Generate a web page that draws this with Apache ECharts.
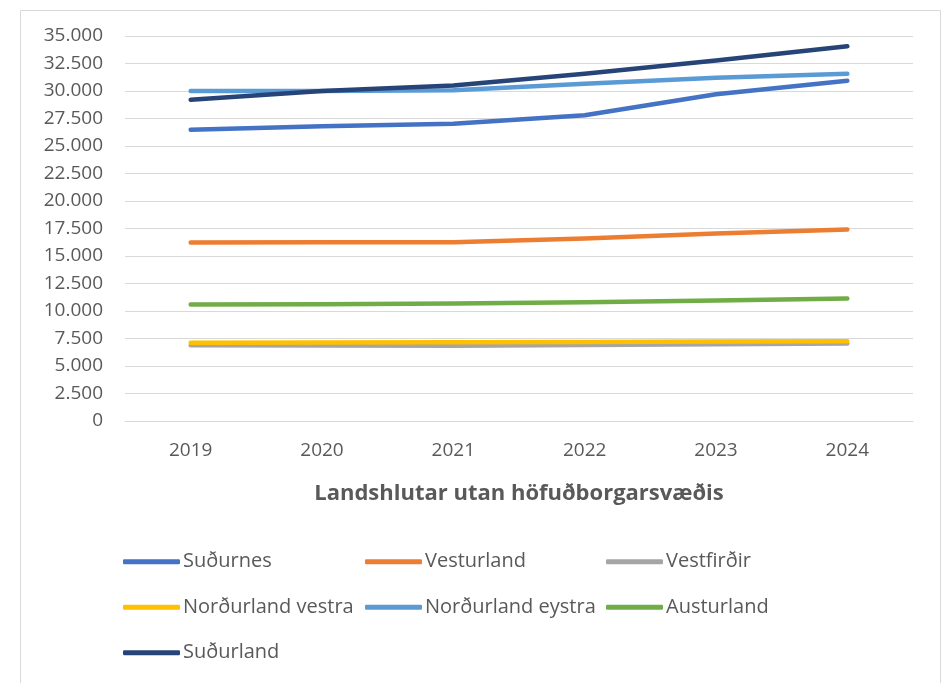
<!DOCTYPE html>
<html>
<head>
<meta charset="utf-8">
<script src="https://cdn.jsdelivr.net/npm/echarts@6/dist/echarts.min.js"></script>
<style>
  html, body { margin: 0; padding: 0; background: #fff; }
  #chart { width: 944px; height: 683px; }
</style>
</head>
<body>
<div id="chart"></div>
<script>
// ár (x-ás)
const years = ['2019', '2020', '2021', '2022', '2023', '2024'];

// gildi lesin af myndinni
const sudurnes = [26480, 26800, 27030, 27800, 29700, 30940];
const vesturland = [16230, 16250, 16240, 16600, 17050, 17410];
const vestfirdir = [6880, 6860, 6840, 6900, 6980, 7050];
const nordurlandVestra = [7110, 7140, 7160, 7190, 7220, 7260];
const nordurlandEystra = [30000, 30000, 30060, 30650, 31200, 31570];
const austurland = [10590, 10620, 10680, 10800, 10950, 11130];
const sudurland = [29200, 30000, 30500, 31570, 32780, 34060];

const seriesNames = ['Suðurnes', 'Vesturland', 'Vestfirðir', 'Norðurland vestra',
  'Norðurland eystra', 'Austurland', 'Suðurland'];
const seriesData = [sudurnes, vesturland, vestfirdir, nordurlandVestra,
  nordurlandEystra, austurland, sudurland];
const colors = ['#4472C4', '#ED7D31', '#A5A5A5', '#FFC000', '#5B9BD5', '#70AD47', '#264478'];

const FONT = 'Open Sans';
const TEXT = '#595959';

function fmt(v) {
  return String(v).replace(/\B(?=(\d{3})+(?!\d))/g, '.');
}

const chart = echarts.init(document.getElementById('chart'));

const legendBase = {
  orient: 'vertical',
  top: 550,
  padding: 0,
  itemWidth: 57,
  itemHeight: 5,
  itemGap: 22,
  icon: 'roundRect',
  textStyle: { fontFamily: FONT, fontSize: 20, color: TEXT, lineHeight: 23.5, padding: [0, 0, 0, -2] },
};

chart.setOption({
  animation: false,
  color: colors,
  graphic: [{
    type: 'rect',
    shape: { x: 20.5, y: 10.5, width: 920, height: 700 },
    style: { fill: 'none', stroke: '#d9d9d9', lineWidth: 1 },
    silent: true,
  }],
  grid: {
    left: 125,
    right: 31,
    top: 36,
    bottom: 262,
    containLabel: false,
  },
  legend: [
    Object.assign({}, legendBase, { left: 123, data: ['Suðurnes', 'Norðurland vestra', 'Suðurland'] }),
    Object.assign({}, legendBase, { left: 365, data: ['Vesturland', 'Norðurland eystra'] }),
    Object.assign({}, legendBase, { left: 606, data: ['Vestfirðir', 'Austurland'] }),
  ],
  xAxis: {
    type: 'category',
    data: years,
    boundaryGap: true,
    axisTick: { show: false },
    axisLine: { lineStyle: { color: '#d9d9d9', width: 1 } },
    axisLabel: { fontFamily: FONT, fontSize: 19, color: TEXT, margin: 20 },
    name: 'Landshlutar utan höfuðborgarsvæðis',
    nameLocation: 'middle',
    nameGap: 62,
    nameTextStyle: { fontFamily: FONT, fontSize: 22, fontWeight: 'bold', color: TEXT },
  },
  yAxis: {
    type: 'value',
    min: 0,
    max: 35000,
    interval: 2500,
    axisLine: { show: false },
    axisTick: { show: false },
    axisLabel: {
      fontFamily: FONT,
      fontSize: 19,
      color: TEXT,
      margin: 22,
      formatter: fmt,
    },
    splitLine: { lineStyle: { color: '#d9d9d9', width: 1 } },
  },
  series: seriesNames.map((name, i) => ({
    name,
    type: 'line',
    data: seriesData[i],
    symbol: 'none',
    lineStyle: { width: 4.5, cap: 'round', join: 'round', color: colors[i] },
    itemStyle: { color: colors[i] },
  })),
});
</script>
</body>
</html>
